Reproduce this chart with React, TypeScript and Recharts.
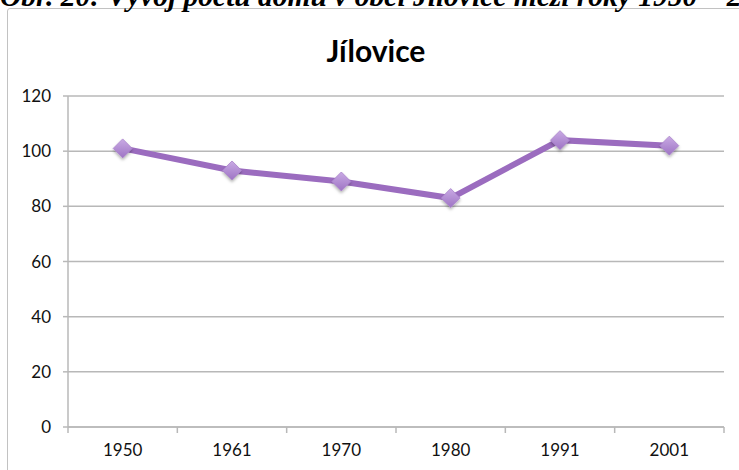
import { CartesianGrid, Line, LineChart, XAxis, YAxis } from 'recharts';

const roky = ['1950', '1961', '1970', '1980', '1991', '2001'];
const domy = [101, 93, 89, 83, 104, 102];
const yTicks = [0, 20, 40, 60, 80, 100, 120];

const data = roky.map((rok, i) => ({ rok, domy: domy[i] }));

const GRID = '#b8b8b8';
const LINE = '#9b6cbf';
const FONT = 'Lato, "Open Sans", sans-serif';

function Diamond(props: any) {
  const { cx, cy, index } = props;
  if (cx == null || cy == null) return null;
  const r = 9.5;
  return (
    <polygon
      key={`d-${index}`}
      points={`${cx},${cy - r} ${cx + r},${cy} ${cx},${cy + r} ${cx - r},${cy}`}
      fill="url(#diamondFill)"
      stroke="#a983cc"
      strokeWidth={0.8}
      filter="url(#diamondShadow)"
    />
  );
}

function YearTick(props: any) {
  const { x, y, payload, index, visibleTicksCount } = props;
  const half = payload?.offset ?? 54.75;
  const last = index === (visibleTicksCount ?? roky.length) - 1;
  return (
    <g>
      <line x1={x - half} x2={x - half} y1={y} y2={y + 6} stroke={GRID} strokeWidth={1.5} />
      {last && (
        <line x1={x + half} x2={x + half} y1={y} y2={y + 6} stroke={GRID} strokeWidth={1.5} />
      )}
      <text x={x} y={y + 29} textAnchor="middle" fontFamily={FONT} fontSize={17} fill="#111">
        {payload.value}
      </text>
    </g>
  );
}

export default function App() {
  return (
    <div
      style={{
        position: 'absolute',
        left: 0,
        top: 0,
        width: 739,
        height: 470,
        overflow: 'hidden',
        background: '#fff',
      }}
    >
      <div
        style={{
          position: 'absolute',
          left: 7,
          top: 8,
          width: 760,
          height: 480,
          border: '1.5px solid #c2c2c2',
          borderRadius: 3,
        }}
      />
      <div style={{ position: 'absolute', left: 0, top: 0 }}>
        <LineChart
          width={739}
          height={470}
          data={data}
          margin={{ top: 96, right: 15, bottom: 13, left: 8 }}
        >
          <defs>
            <linearGradient id="diamondFill" x1="0" y1="0" x2="0" y2="1">
              <stop offset="0%" stopColor="#c9aae4" />
              <stop offset="100%" stopColor="#9e74c4" />
            </linearGradient>
            <filter id="diamondShadow" x="-50%" y="-50%" width="200%" height="200%">
              <feDropShadow dx="0" dy="2" stdDeviation="1.5" floodColor="#000" floodOpacity="0.3" />
            </filter>
          </defs>
          <CartesianGrid vertical={false} stroke={GRID} strokeWidth={1.5} />
          <XAxis
            dataKey="rok"
            scale="band"
            height={30}
            axisLine={{ stroke: GRID, strokeWidth: 1.5 }}
            tickLine={false}
            tickSize={0}
            tickMargin={0}
            interval={0}
            tick={<YearTick />}
          />
          <YAxis
            width={60}
            domain={[0, 120]}
            ticks={yTicks}
            interval={0}
            axisLine={{ stroke: GRID, strokeWidth: 1.5 }}
            tickLine={{ stroke: GRID, strokeWidth: 1.5 }}
            tickSize={5}
            tickMargin={12}
            tick={{ fontFamily: FONT, fontSize: 17, fill: '#111' }}
          />
          <Line
            type="linear"
            dataKey="domy"
            stroke={LINE}
            strokeWidth={6}
            dot={<Diamond />}
            activeDot={false}
            isAnimationActive={false}
          />
        </LineChart>
      </div>
      <svg
        width={739}
        height={470}
        style={{ position: 'absolute', left: 0, top: 0, pointerEvents: 'none' }}
      >
        <text
          x={0}
          y={6}
          fontFamily='"Liberation Serif", "DejaVu Serif", serif'
          fontWeight="bold"
          fontStyle="italic"
          fontSize={29.5}
          fill="#000"
        >
          Obr. 20: Vývoj počtu domů v obci Jílovice mezi roky 1950 – 2001
        </text>
        <text
          x={376}
          y={62}
          textAnchor="middle"
          fontFamily={FONT}
          fontWeight="bold"
          fontSize={30}
          fill="#000"
        >
          Jílovice
        </text>
      </svg>
    </div>
  );
}
